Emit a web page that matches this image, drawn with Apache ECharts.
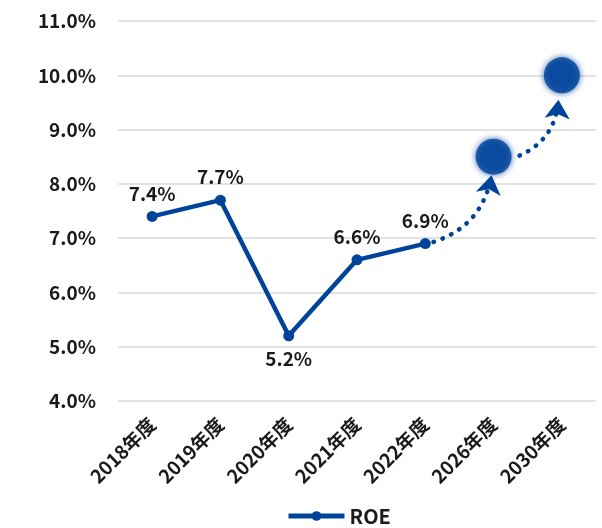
<!DOCTYPE html>
<html><head><meta charset="utf-8">
<script src="https://cdn.jsdelivr.net/npm/echarts@6/dist/echarts.min.js"></script>
<style>html,body{margin:0;padding:0;background:#fff}#c{width:602px;height:528px}</style>
</head><body><div id="c"></div>
<script>
const categories = ['2018年度','2019年度','2020年度','2021年度','2022年度','2026年度','2030年度'];
const roeActual = [7.4, 7.7, 5.2, 6.6, 6.9, null, null];
const labelBelow = [false, false, true, false, false];
const targetValues = [null, null, null, null, null, 8.5, 10.0];
// arrow segments: [fromCategoryPos, fromValue] -> [toCategoryPos, toValue]
const arrowSegments = [
  [[4.12, 6.93], [4.97, 8.16]],
  [[5.38, 8.52], [5.95, 9.55]]
];
const yTicks = {min: 4, max: 11, interval: 1};

const color = '#00439b';
const font = '"Noto Sans CJK JP", "Noto Sans", sans-serif';
const chart = echarts.init(document.getElementById('c'));
chart.setOption({
  animation: false,
  grid: {left: 118, right: 6, top: 21, bottom: 127},
  xAxis: [{
    type: 'category', data: categories, boundaryGap: true,
    axisLine: {show: false}, axisTick: {show: false},
    axisLabel: {rotate: 45, color: '#1a1a1a', fontFamily: font, fontSize: 19, fontWeight: 'bold', margin: 20, interval: 0}
  }, {
    type: 'value', min: -0.5, max: categories.length - 0.5, show: false
  }],
  yAxis: {
    type: 'value', min: yTicks.min, max: yTicks.max, interval: yTicks.interval,
    axisLine: {show: false}, axisTick: {show: false},
    splitLine: {lineStyle: {color: '#d9d9d9', width: 1.5}},
    axisLabel: {formatter: v => v.toFixed(1) + '%', color: '#1a1a1a', fontFamily: font, fontSize: 19, fontWeight: 'bold', margin: 22}
  },
  legend: {
    top: 501, left: 281, data: ['ROE'], itemWidth: 56, itemHeight: 12, itemGap: 4,
    lineStyle: {width: 5},
    textStyle: {color: '#1a1a1a', fontFamily: font, fontSize: 20, fontWeight: 'bold'}
  },
  series: [
    {
      name: 'ROE', type: 'line', data: roeActual.map((v, i) => v == null ? null : {
        value: v,
        label: {position: labelBelow[i] ? 'bottom' : 'top'}
      }),
      symbol: 'circle', symbolSize: 11, connectNulls: false,
      lineStyle: {color: color, width: 4.5}, itemStyle: {color: color},
      label: {show: true, formatter: p => p.value.toFixed(1) + '%', color: '#1a1a1a', fontFamily: font, fontSize: 19, fontWeight: 'bold', distance: 8}
    },
    {
      name: 'target', type: 'scatter', data: targetValues, symbolSize: 36,
      itemStyle: {color: color, shadowBlur: 6, shadowColor: color}, z: 3
    },
    {
      name: 'arrows', type: 'lines', coordinateSystem: 'cartesian2d', xAxisIndex: 1,
      data: arrowSegments.map(s => ({coords: s})),
      symbol: ['none', 'arrow'], symbolSize: [15, 19],
      lineStyle: {color: color, width: 4.5, type: [0.5, 9], cap: 'round', curveness: -0.3, opacity: 1},
      z: 2
    }
  ]
});
</script></body></html>
